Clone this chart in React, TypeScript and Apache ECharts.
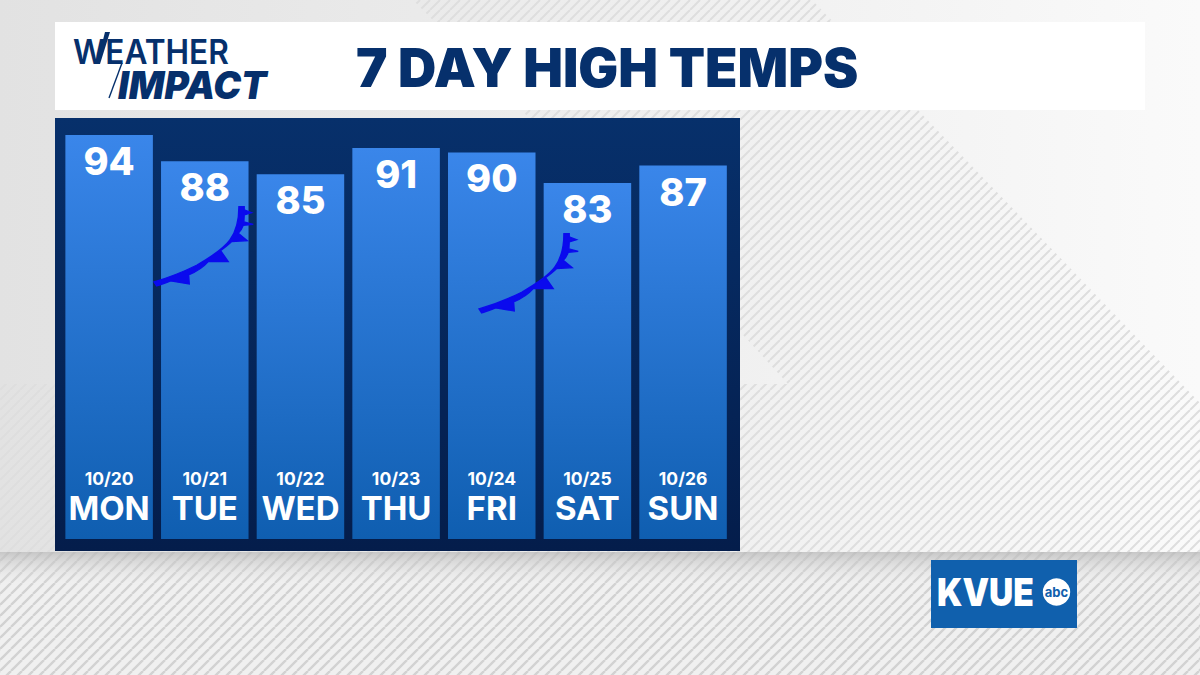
import React, { useEffect, useRef } from "react";
import * as echarts from "echarts";

const days = ["MON", "TUE", "WED", "THU", "FRI", "SAT", "SUN"];
const dates = ["10/20", "10/21", "10/22", "10/23", "10/24", "10/25", "10/26"];
const highs = [94, 88, 85, 91, 90, 83, 87];
const title = "7 DAY HIGH TEMPS";

const NAVY = "#06306c";
const FONT = "Inter, Lato, sans-serif";

const frontPath =
  "M42 276 L50 288 C62 284 76 280 92 273 L148 282 L146 255 C170 245 190 232 205 215 L265 215 L242 182 C255 172 268 163 275 155 L322 152 L295 130 C303 122 308 112 310 106 L340 103 L312 96 L313 75 L335 68 L313 60 L313 50 L297 50 C297 90 288 125 270 150 C250 178 215 200 170 226 C130 246 90 262 42 276 Z";

function hatch(spacing: number, line: string, width = 1.2) {
  const c = document.createElement("canvas");
  c.width = spacing;
  c.height = spacing;
  const g = c.getContext("2d")!;
  g.strokeStyle = line;
  g.lineWidth = width;
  g.beginPath();
  for (let k = -spacing; k <= spacing * 2; k += spacing) {
    g.moveTo(k, spacing);
    g.lineTo(k + spacing, 0);
  }
  g.stroke();
  return c;
}

export default function App() {
  const ref = useRef<HTMLDivElement>(null);
  useEffect(() => {
    document.body.style.margin = "0";
    echarts.graphic.registerShape("coldFront", echarts.graphic.extendPath(frontPath, {}) as any);
    const chart = echarts.init(ref.current!, undefined, { renderer: "svg", width: 1200, height: 675 });
    const fineHatch = { image: hatch(10, "#dedede", 2), repeat: "repeat" } as any;
    const wideHatch = { image: hatch(11, "#d2d2d2", 2.4), repeat: "repeat" } as any;
    const logoText = (text: string, x: number, y: number, font: string, scaleX: number) => ({
      type: "text", z: 5, x, y, scaleX, style: { text, fill: NAVY, font, verticalAlign: "middle" },
    });
    const frontStyle = { fill: "#0a0aee", stroke: "#0a0aee", lineWidth: 4 };
    chart.setOption({
      animation: false,
      grid: { left: 61.3, width: 669.6, top: 135, height: 404 },
      xAxis: { type: "category", data: days, show: false },
      yAxis: { type: "value", min: 1.4, max: 94, show: false },
      graphic: {
        elements: [
          { type: "rect", z: -10, shape: { x: 0, y: 0, width: 1200, height: 675 }, style: { fill: new echarts.graphic.LinearGradient(0, 0, 1, 0, [{ offset: 0, color: "#e2e2e2" }, { offset: 0.65, color: "#f1f1f1" }, { offset: 1, color: "#fafafa" }]) } },
          { type: "polygon", z: -9, shape: { points: [[413, 0], [812, 0], [1200, 403], [1200, 552], [0, 552], [0, 384], [788, 384], [745, 337], [413, 0]] }, style: { fill: fineHatch } },
          { type: "rect", z: -8, shape: { x: 0, y: 552, width: 1200, height: 123 }, style: { fill: "#f0f0f0" } },
          { type: "rect", z: -8, shape: { x: 0, y: 552, width: 1200, height: 123 }, style: { fill: wideHatch } },
          { type: "rect", z: -7, shape: { x: 0, y: 552, width: 1200, height: 34 }, style: { fill: new echarts.graphic.LinearGradient(0, 0, 0, 1, [{ offset: 0, color: "rgba(185,185,185,0.75)" }, { offset: 1, color: "rgba(235,235,235,0)" }]) } },
          { type: "rect", z: -6, shape: { x: 55, y: 22, width: 1090, height: 88 }, style: { fill: "#ffffff" } },
          { type: "rect", z: -5, shape: { x: 55, y: 118, width: 685, height: 433 }, style: { fill: new echarts.graphic.LinearGradient(0, 0, 0, 1, [{ offset: 0, color: "#07306b" }, { offset: 1, color: "#041d4b" }]) } },
          { type: "text", z: 5, x: 356, y: 68, style: { text: title, fill: NAVY, font: `900 53px ${FONT}`, verticalAlign: "middle" } },
          logoText("WEATHER", 73, 52, `600 34px ${FONT}`, 0.93),
          logoText("IMPACT", 118, 85.5, `italic 900 38px ${FONT}`, 0.98),
          { type: "polygon", z: 6, shape: { points: [[105, 32], [110, 32], [100, 64], [97, 64]] }, style: { fill: NAVY } },
          { type: "line", z: 6, shape: { x1: 122, y1: 63, x2: 109, y2: 98 }, style: { stroke: NAVY, lineWidth: 1.4 } },
          { type: "rect", z: 5, shape: { x: 931, y: 560, width: 146, height: 68 }, style: { fill: "#1060ad" } },
          { type: "text", z: 6, x: 937, y: 592, scaleX: 0.86, style: { text: "KVUE", fill: "#fff", font: `900 39px ${FONT}`, verticalAlign: "middle" } },
          { type: "circle", z: 6, shape: { cx: 1056.5, cy: 592, r: 13.7 }, style: { fill: "#fff" } },
          { type: "text", z: 7, x: 1056.5, y: 592, style: { text: "abc", fill: "#1060ad", font: `700 13px ${FONT}`, align: "center", verticalAlign: "middle" } },
          { type: "coldFront", z: 8, x: 140, y: 190, scaleX: 1 / 3, scaleY: 1 / 3, style: frontStyle },
          { type: "coldFront", z: 8, x: 465, y: 217, scaleX: 1 / 3, scaleY: 1 / 3, style: frontStyle },
        ],
      },
      series: [
        {
          type: "bar",
          data: highs,
          barWidth: 87.5,
          silent: true,
          itemStyle: { color: new echarts.graphic.LinearGradient(0, 0, 0, 1, [{ offset: 0, color: "#3a86ea" }, { offset: 1, color: "#0f5eb0" }]) },
          label: { show: true, position: "insideTop", distance: 7, color: "#fff", fontFamily: FONT, fontWeight: 800, fontSize: 38 },
        },
        {
          type: "custom",
          silent: true,
          z: 6,
          data: highs.map((_, i) => i),
          renderItem: (_: any, api: any) => {
            const i = api.value(0);
            const cx = api.coord([i, 50])[0];
            return {
              type: "group",
              children: [
                { type: "text", style: { x: cx, y: 478, text: dates[i], fill: "#fff", font: `700 17.5px ${FONT}`, align: "center", verticalAlign: "middle" } },
                { type: "text", style: { x: cx, y: 508, text: days[i], fill: "#fff", font: `700 33px ${FONT}`, align: "center", verticalAlign: "middle" } },
              ],
            };
          },
        },
      ],
    });
    return () => chart.dispose();
  }, []);
  return <div ref={ref} style={{ width: 1200, height: 675 }} />;
}
